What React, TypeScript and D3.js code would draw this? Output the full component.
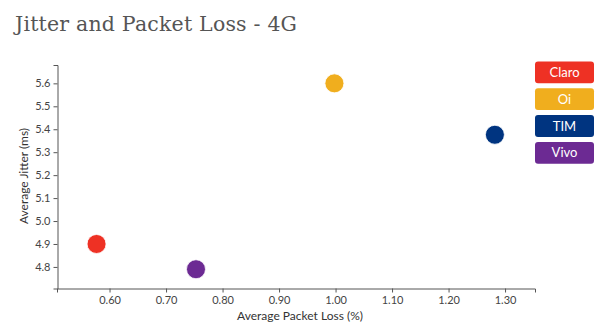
import React, { useEffect, useRef } from "react";
import * as d3 from "d3";

const operators = ["Claro", "Oi", "TIM", "Vivo"];
const packetLoss = [0.577, 0.998, 1.282, 0.753];
const jitter = [4.9, 5.6, 5.376, 4.79];
const colors = ["#EE3124", "#F0AE1E", "#003480", "#6C2A93"];
const xTicks = [0.6, 0.7, 0.8, 0.9, 1.0, 1.1, 1.2, 1.3];
const yTicks = [4.8, 4.9, 5.0, 5.1, 5.2, 5.3, 5.4, 5.5, 5.6];

const W = 600;
const H = 331;

export default function App() {
  const ref = useRef<SVGSVGElement>(null);

  useEffect(() => {
    const svg = d3.select(ref.current);
    svg.selectAll("*").remove();

    const x = d3.scaleLinear().domain([0.507, 1.353]).range([57, 535]);
    const y = d3.scaleLinear().domain([4.706, 5.68]).range([288.5, 65]);

    svg
      .append("text")
      .attr("x", 15)
      .attr("y", 31)
      .attr("font-family", "DejaVu Serif")
      .attr("font-size", 20.5)
      .attr("fill", "#555")
      .attr("textLength", 282)
      .attr("lengthAdjust", "spacing")
      .text("Jitter and Packet Loss - 4G");

    const xAxis = svg
      .append("g")
      .attr("transform", `translate(0,${288.5})`)
      .call(
        d3
          .axisBottom(x)
          .tickValues(xTicks)
          .tickFormat(d3.format(".2f"))
          .tickSizeOuter(0)
          .tickSize(4)
          .tickPadding(4)
      );
    const yAxis = svg
      .append("g")
      .attr("transform", `translate(${57.5},0)`)
      .call(
        d3
          .axisLeft(y)
          .tickValues(yTicks)
          .tickFormat(d3.format(".1f"))
          .tickSizeOuter(0)
          .tickSize(4)
          .tickPadding(3)
      );
    [xAxis, yAxis].forEach((g) => {
      g.select(".domain").attr("stroke", "#555");
      g.selectAll(".tick line").attr("stroke", "#555");
      g.selectAll(".tick text")
        .attr("fill", "#444")
        .attr("font-family", "Lato")
        .attr("font-size", 11);
    });

    svg
      .append("text")
      .attr("x", 300)
      .attr("y", 320)
      .attr("text-anchor", "middle")
      .attr("font-family", "Lato")
      .attr("font-size", 12)
      .attr("fill", "#333")
      .text("Average Packet Loss (%)");

    svg
      .append("text")
      .attr("transform", `translate(28,${176}) rotate(-90)`)
      .attr("text-anchor", "middle")
      .attr("font-family", "Lato")
      .attr("font-size", 12)
      .attr("fill", "#333")
      .text("Average Jitter (ms)");

    svg
      .append("g")
      .selectAll("circle")
      .data(operators)
      .join("circle")
      .attr("cx", (_, i) => x(packetLoss[i]))
      .attr("cy", (_, i) => y(jitter[i]))
      .attr("r", 9.5)
      .attr("fill", (_, i) => colors[i])
      .attr("stroke", "#fff")
      .attr("stroke-width", 0.8);

    const legend = svg
      .append("g")
      .selectAll("g")
      .data(operators)
      .join("g")
      .attr("transform", (_, i) => `translate(535,${61.5 + i * 26.8})`);
    legend
      .append("rect")
      .attr("width", 59)
      .attr("height", 21.8)
      .attr("rx", 3)
      .attr("fill", (_, i) => colors[i]);
    legend
      .append("text")
      .attr("x", 29.5)
      .attr("y", 15.5)
      .attr("text-anchor", "middle")
      .attr("font-family", "Lato")
      .attr("font-size", 13)
      .attr("fill", "#fff")
      .text((d) => d);
  }, []);

  return (
    <svg
      ref={ref}
      width={W}
      height={H}
      style={{ position: "absolute", left: 0, top: 0, background: "#fff" }}
    />
  );
}
